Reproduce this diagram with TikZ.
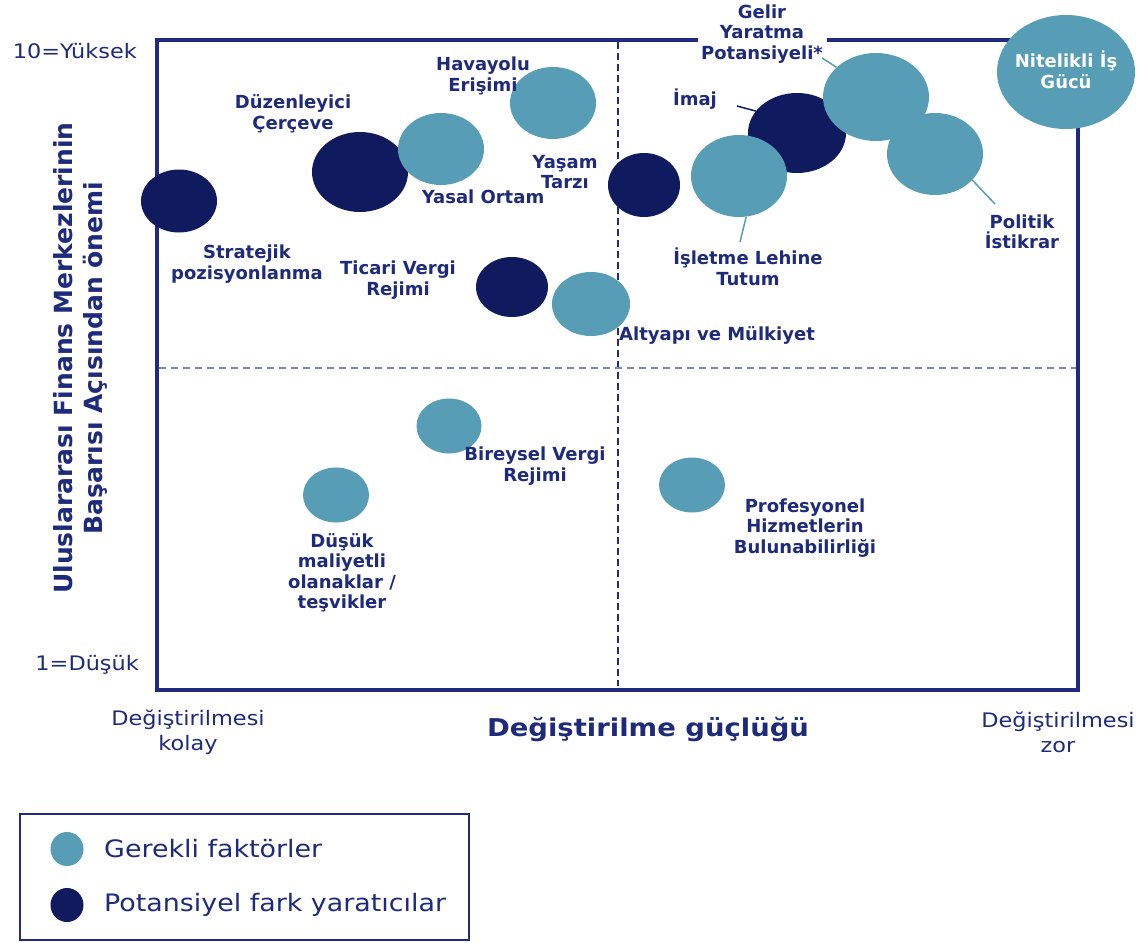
\documentclass[tikz,border=0pt]{standalone}
\usepackage{fontspec}
\setmainfont{DejaVu Sans}
\newfontfamily\axfont[FakeStretch=1.12]{DejaVu Sans}
\usetikzlibrary{shapes.geometric}
\definecolor{lightc}{RGB}{86,157,181}
\definecolor{darkc}{RGB}{16,26,94}
\definecolor{navy}{RGB}{30,42,122}
\definecolor{framec}{RGB}{32,42,128}
\definecolor{dashc}{RGB}{125,135,190}
\begin{document}
\begin{tikzpicture}[x=1pt,y=-1pt,
  light/.style={ellipse, fill=lightc, inner sep=0pt},
  dark/.style={ellipse, fill=darkc, inner sep=0pt},
  lbl/.style={text=navy, font=\fontsize{18}{20.5}\selectfont\bfseries, align=center, inner sep=0pt},
  ax/.style={text=navy, font=\axfont\fontsize{20}{25}\selectfont, align=center, inner sep=0pt},
  frameline/.style={draw=framec, line width=3.2pt},
  dashline/.style={draw=framec, line width=1.8pt, dash pattern=on 7pt off 4pt},
  dashlineh/.style={draw=dashc, line width=2.2pt, dash pattern=on 7pt off 5pt},
  leadlight/.style={draw=lightc, line width=1.5pt},
  leaddark/.style={draw=darkc, line width=1.5pt}
]
\useasboundingbox (0,0) rectangle (1139,942);
% frame
\coordinate (TL) at (157,40);
\coordinate (TR) at (1078,40);
\coordinate (BL) at (157,690);
\coordinate (BR) at (1078,690);
\coordinate (G1) at (698,40);
\coordinate (G2) at (827,40);
\coordinate (VT) at (618,42);
\coordinate (VB) at (618,686);
\coordinate (HL) at (159,368);
\coordinate (HR) at (1076,368);
\draw[dashline] (VT) -- (VB);
\draw[dashlineh] (HL) -- (HR);
\draw[frameline] (G1) -- (TL) -- (BL) -- (BR) -- (TR) -- (G2);

% leader start points
\coordinate (gelL) at (822,58);
\coordinate (imL) at (737,106);
\coordinate (polL) at (995,204);
\coordinate (isL) at (740,242);

% bubbles
\node[dark, minimum width=76pt, minimum height=63pt] (strat) at (179,201) {};
\node[dark, minimum width=96pt, minimum height=80pt] (duzen) at (360,172) {};
\node[light, minimum width=86pt, minimum height=72pt] (yasal) at (441,149) {};
\node[light, minimum width=86pt, minimum height=72pt] (hava) at (553,103) {};
\node[dark, minimum width=72pt, minimum height=64pt] (yasam) at (644,185) {};
\node[dark, minimum width=72pt, minimum height=60pt] (ticari) at (512,287) {};
\node[light, minimum width=78pt, minimum height=64pt] (altyapi) at (591,304) {};
\node[dark, minimum width=98pt, minimum height=80pt] (imaj) at (797,133) {};
\node[light, minimum width=96pt, minimum height=82pt] (isletme) at (739,176) {};
\node[light, minimum width=96pt, minimum height=82pt] (politik) at (935,154) {};
\node[light, minimum width=106pt, minimum height=88pt] (gelir) at (876,97) {};
\node[light, minimum width=138pt, minimum height=114pt] (nitel) at (1066,72) {};
\node[light, minimum width=65pt, minimum height=55pt] (bireysel) at (449,426) {};
\node[light, minimum width=66pt, minimum height=55pt] (dusuk) at (336,495) {};
\node[light, minimum width=66pt, minimum height=55pt] (prof) at (692,485) {};

% leaders
\draw[leadlight] (gelL) -- (gelir.143);
\draw[leaddark] (imL) -- (imaj.152);
\draw[leadlight] (polL) -- (politik.-35);
\draw[leadlight] (isL) -- (isletme.-80);

% labels
\node[lbl] (gelirT) at (762,34) {Gelir\\Yaratma\\Potansiyeli*};
\node[lbl, text=white] (nitT) at (1066,70) {Nitelikli İş\\Gücü};
\node[lbl] (imajT) at (695,99) {İmaj};
\node[lbl] (polT) at (1022,232) {Politik\\İstikrar};
\node[lbl] (isT) at (748,267) {İşletme Lehine\\Tutum};
\node[lbl] (altT) at (717,335) {Altyapı ve Mülkiyet};
\node[lbl] (yasamT) at (565,172) {Yaşam\\Tarzı};
\node[lbl] (yasalT) at (483,197) {Yasal Ortam};
\node[lbl] (havaT) at (483,76) {Havayolu\\Erişimi};
\node[lbl] (duzT) at (293,114) {Düzenleyici\\Çerçeve};
\node[lbl] (stratT) at (247,264) {Stratejik\\pozisyonlanma};
\node[lbl] (ticT) at (398,280) {Ticari Vergi\\Rejimi};
\node[lbl] (birT) at (535,466) {Bireysel Vergi\\Rejimi};
\node[lbl] (dusT) at (342,573) {Düşük\\maliyetli\\olanaklar /\\teşvikler};
\node[lbl] (profT) at (805,528) {Profesyonel\\Hizmetlerin\\Bulunabilirliği};

% axis texts
\node[ax, anchor=east] (yhi) at (137,51) {10=Yüksek};
\node[ax, anchor=east] (ylo) at (139,665) {1=Düşük};
\node[ax] (xlo) at (188,732) {Değiştirilmesi\\kolay};
\node[ax] (xhi) at (1058,732) {Değiştirilmesi\\zor};
\node[text=navy, inner sep=0pt, font=\axfont\fontsize{24.5}{30}\selectfont\bfseries] (xtitle) at (648,730) {Değiştirilme güçlüğü};
\node[text=navy, inner sep=0pt, align=center, rotate=90, font=\fontsize{25}{30}\selectfont\bfseries] (ytitle) at (80,358) {Uluslararası Finans Merkezlerinin\\Başarısı Açısından önemi};

% legend
\coordinate (LG1) at (20,814);
\coordinate (LG2) at (469,940);
\draw[draw=framec, line width=2pt] (LG1) rectangle (LG2);
\node[light, minimum width=33pt, minimum height=34pt] (leg1) at (67,849) {};
\node[dark, minimum width=33pt, minimum height=34pt] (leg2) at (67,905) {};
\node[ax, anchor=west, font=\axfont\fontsize{24}{28}\selectfont] (leg1T) at (104,849) {Gerekli faktörler};
\node[ax, anchor=west, font=\axfont\fontsize{24}{28}\selectfont] (leg2T) at (104,905) {Potansiyel fark yaratıcılar};
\end{tikzpicture}
\end{document}
